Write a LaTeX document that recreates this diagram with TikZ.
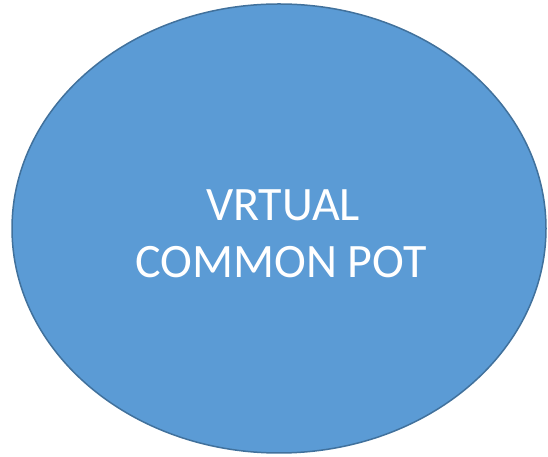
\documentclass[tikz,border=0pt]{standalone}
\usepackage{fontspec}
\setmainfont{Carlito}
\definecolor{fillblue}{HTML}{5B9BD5}
\definecolor{edgeblue}{HTML}{41719C}
\begin{document}
\begin{tikzpicture}[x=1pt,y=1pt,
  pot/.style={draw=edgeblue,fill=fillblue,line width=1.5pt},
  lbl/.style={text=white,align=center,font=\fontsize{48}{58}\selectfont,inner sep=0pt}]
\useasboundingbox (0,0) rectangle (548,457);
\path[pot] (279,228.5) ellipse [x radius=267, y radius=224.5];
\node[lbl] (t1) at (283,251.5) {VRTUAL};
\node[lbl] (t2) at (281,194.5) {COMMON POT};
\end{tikzpicture}
\end{document}
